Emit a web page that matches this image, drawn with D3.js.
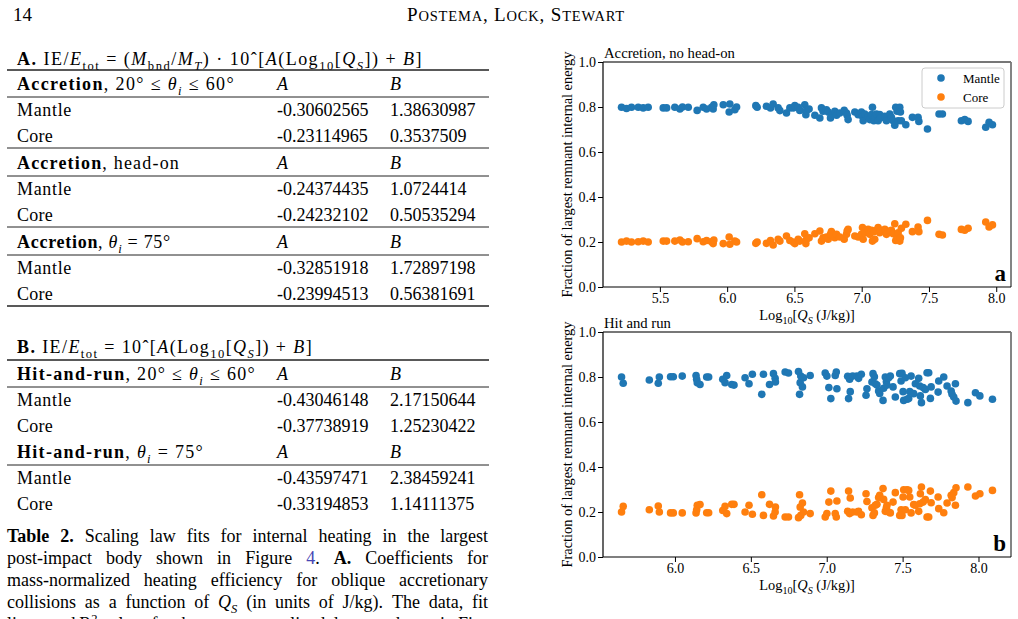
<!DOCTYPE html>
<html><head><meta charset="utf-8">
<script src="https://cdn.jsdelivr.net/npm/d3@7"></script>
<style>
body{margin:0;background:#fff}
text{font-family:"Liberation Serif",serif;white-space:pre}
</style></head>
<body><svg id="c" width="1018" height="619"></svg>
<script>
// ---------- DATA ----------
// Panel a: Accretion, no head-on
const qsA = [5.215,5.252,5.289,5.339,5.376,5.413,5.525,5.550,5.611,5.649,5.668,5.711,5.777,5.822,5.847,5.884,5.896,5.901,5.971,6.020,6.015,6.057,6.070,6.213,6.223,6.292,6.322,6.342,6.379,6.392,6.441,6.466,6.491,6.503,6.528,6.540,6.577,6.585,6.590,6.609,6.652,6.689,6.701,6.713,6.738,6.751,6.775,6.768,6.800,6.813,6.837,6.870,6.887,6.892,6.899,6.949,6.974,6.998,7.006,7.011,7.023,7.048,7.060,7.073,7.080,7.090,7.097,7.110,7.122,7.134,7.139,7.172,7.184,7.209,7.221,7.234,7.246,7.253,7.263,7.271,7.283,7.288,7.295,7.328,7.377,7.419,7.425,7.489,7.575,7.600,7.741,7.766,7.791,7.922,7.947,7.972];
const mantleA = [0.799,0.793,0.799,0.799,0.796,0.799,0.796,0.796,0.799,0.791,0.800,0.799,0.785,0.799,0.791,0.799,0.791,0.810,0.810,0.813,0.778,0.788,0.800,0.806,0.799,0.803,0.796,0.813,0.796,0.784,0.773,0.796,0.796,0.806,0.799,0.785,0.810,0.766,0.785,0.791,0.763,0.751,0.796,0.781,0.788,0.778,0.763,0.751,0.781,0.763,0.773,0.785,0.773,0.763,0.744,0.778,0.766,0.778,0.759,0.739,0.769,0.759,0.744,0.766,0.799,0.739,0.754,0.769,0.739,0.766,0.751,0.759,0.739,0.769,0.754,0.739,0.719,0.799,0.781,0.739,0.799,0.778,0.739,0.721,0.754,0.754,0.736,0.702,0.769,0.769,0.739,0.744,0.736,0.710,0.732,0.721];
const coreA = [0.200,0.204,0.200,0.201,0.204,0.200,0.204,0.204,0.204,0.209,0.200,0.201,0.215,0.201,0.207,0.201,0.193,0.209,0.193,0.190,0.222,0.204,0.200,0.194,0.200,0.194,0.207,0.187,0.212,0.204,0.227,0.207,0.200,0.193,0.212,0.204,0.237,0.193,0.212,0.219,0.237,0.249,0.204,0.219,0.222,0.212,0.246,0.234,0.219,0.234,0.222,0.212,0.234,0.249,0.256,0.227,0.222,0.234,0.264,0.212,0.241,0.256,0.234,0.252,0.204,0.246,0.212,0.252,0.264,0.241,0.252,0.256,0.234,0.249,0.252,0.237,0.281,0.207,0.219,0.241,0.204,0.219,0.261,0.279,0.246,0.267,0.246,0.296,0.234,0.231,0.256,0.252,0.261,0.289,0.267,0.276];

// Panel b: Hit and run
const qsB = [5.648,5.659,5.831,5.890,5.897,5.971,5.989,6.048,6.139,6.143,6.147,6.165,6.209,6.222,6.315,6.330,6.341,6.374,6.389,6.462,6.488,6.510,6.572,6.583,6.623,6.649,6.660,6.662,6.726,6.748,6.814,6.821,6.825,6.829,6.840,6.847,6.891,6.990,7.001,7.014,7.027,7.056,7.063,7.067,7.138,7.144,7.151,7.155,7.171,7.199,7.210,7.228,7.259,7.265,7.298,7.305,7.314,7.320,7.331,7.342,7.349,7.371,7.375,7.386,7.393,7.397,7.408,7.419,7.437,7.452,7.481,7.490,7.496,7.503,7.507,7.518,7.529,7.540,7.547,7.556,7.573,7.584,7.606,7.613,7.617,7.624,7.635,7.650,7.661,7.672,7.683,7.688,7.734,7.738,7.771,7.793,7.820,7.826,7.837,7.848,7.852,7.930,7.980,8.009,8.092];
const mantleB = [0.800,0.772,0.787,0.772,0.800,0.801,0.801,0.804,0.807,0.790,0.775,0.767,0.800,0.800,0.790,0.775,0.807,0.767,0.764,0.797,0.770,0.812,0.723,0.812,0.767,0.815,0.794,0.778,0.822,0.818,0.824,0.723,0.775,0.804,0.756,0.797,0.807,0.818,0.804,0.753,0.704,0.807,0.822,0.748,0.803,0.704,0.790,0.735,0.804,0.804,0.794,0.812,0.719,0.748,0.778,0.815,0.801,0.770,0.764,0.738,0.727,0.696,0.750,0.800,0.779,0.764,0.797,0.804,0.756,0.711,0.815,0.782,0.816,0.735,0.696,0.797,0.701,0.704,0.735,0.804,0.726,0.770,0.794,0.760,0.716,0.686,0.753,0.745,0.819,0.819,0.705,0.756,0.733,0.782,0.800,0.760,0.738,0.723,0.711,0.770,0.693,0.686,0.730,0.716,0.701];
const coreB = [0.200,0.225,0.210,0.227,0.200,0.196,0.196,0.196,0.196,0.210,0.230,0.233,0.197,0.197,0.207,0.225,0.193,0.234,0.234,0.200,0.230,0.190,0.277,0.185,0.234,0.182,0.200,0.222,0.178,0.178,0.175,0.277,0.222,0.185,0.240,0.200,0.193,0.178,0.193,0.244,0.293,0.193,0.178,0.249,0.203,0.293,0.193,0.262,0.200,0.200,0.203,0.188,0.281,0.247,0.219,0.185,0.196,0.230,0.234,0.264,0.274,0.304,0.256,0.203,0.219,0.230,0.200,0.196,0.244,0.286,0.185,0.210,0.185,0.267,0.299,0.210,0.299,0.296,0.267,0.196,0.233,0.230,0.203,0.237,0.281,0.311,0.244,0.255,0.178,0.178,0.293,0.241,0.267,0.215,0.197,0.240,0.274,0.264,0.286,0.230,0.308,0.311,0.271,0.281,0.296];

const xTicksA = [5.5,6.0,6.5,7.0,7.5,8.0];
const xTicksB = [6.0,6.5,7.0,7.5,8.0];
const yTicks = [0.0,0.2,0.4,0.6,0.8,1.0];
const seriesNames = ["Mantle","Core"];
const seriesColors = ["#1f77b4","#ff7f0e"];

// Table 2 contents
const titleA = [["b","A."],["r"," IE/"],["i","E"],["rsub","tot"],["r"," = ("],["i","M"],["rsub","bnd"],["r","/"],["i","M"],["isub","T"],["r",") · 10ˆ["],["i","A"],["r","(Log"],["rsub","10"],["r","["],["i","Q"],["isub","S"],["r","]) + "],["i","B"],["r","]"]];
const titleB = [["b","B."],["r"," IE/"],["i","E"],["rsub","tot"],["r"," = 10ˆ["],["i","A"],["r","(Log"],["rsub","10"],["r","["],["i","Q"],["isub","S"],["r","]) + "],["i","B"],["r","]"]];
const groupHeadsA = [
  [["b","Accretion"],["r",", 20° ≤ "],["i","θ"],["isub","i"],["r"," ≤ 60°"]],
  [["b","Accretion"],["r",", head-on"]],
  [["b","Accretion"],["r",", "],["i","θ"],["isub","i"],["r"," = 75°"]]
];
const groupRowsA = [
  [["Mantle","-0.30602565","1.38630987"],["Core","-0.23114965","0.3537509"]],
  [["Mantle","-0.24374435","1.0724414"],["Core","-0.24232102","0.50535294"]],
  [["Mantle","-0.32851918","1.72897198"],["Core","-0.23994513","0.56381691"]]
];
const groupHeadsB = [
  [["b","Hit-and-run"],["r",", 20° ≤ "],["i","θ"],["isub","i"],["r"," ≤ 60°"]],
  [["b","Hit-and-run"],["r",", "],["i","θ"],["isub","i"],["r"," = 75°"]]
];
const groupRowsB = [
  [["Mantle","-0.43046148","2.17150644"],["Core","-0.37738919","1.25230422"]],
  [["Mantle","-0.43597471","2.38459241"],["Core","-0.33194853","1.14111375"]]
];
const captionLines = [
  [[["b","Table"]],[["b","2."]],"Scaling","law","fits","for","internal","heating","in","the","largest"],
  ["post-impact","body","shown","in","Figure",[["blue","4"],["r","."]],[["b","A."]],"Coefficients","for"],
  ["mass-normalized","heating","efficiency","for","oblique","accretionary"],
  ["collisions","as","a","function","of",[["i","Q"],["isub","S"]],"(in","units","of","J/kg).","The","data,","fit"],
  ["lines,","and",[["r","R"],["sup","2"]],"values","for","the","mass-normalized","data","are","shown","in","Fig-"]
];

// ---------- DRAW ----------
const svg = d3.select("#c");
svg.append("rect").attr("width",1018).attr("height",619).attr("fill","#fff");

function rich(sel, segs, size){
  let shift = 0;
  segs.forEach(([st,t])=>{
    const ts = sel.append("tspan").text(t);
    const sub = st.includes("sub"), sup = st === "sup";
    const target = sub ? size*0.25 : (sup ? -size*0.4 : 0);
    ts.attr("dy", target - shift); shift = target;
    ts.attr("font-size", (sub||sup) ? size*0.7 : size);
    if (st[0]==="b" && st!=="blue") ts.attr("font-weight","bold");
    if (st[0]==="i") ts.attr("font-style","italic");
    if (st==="blue") ts.attr("fill","#4646b4");
  });
  return sel;
}
// stretch a text to span x0..x1 (the reference uses a wider TeX font)
function fit(sel, x0, x1){
  const w = sel.node().getComputedTextLength();
  const n = sel.text().length;
  if (n > 0) sel.attr("letter-spacing", ((x1 - x0 - w) / n).toFixed(3));
  return sel;
}

// page header
svg.append("text").attr("x",13).attr("y",21).attr("font-size",19).text("14");
const hdr = svg.append("text").attr("x",407).attr("y",21);
[["P",19],["OSTEMA",14.5],[", ",19],["L",19],["OCK",14.5],[", ",19],["S",19],["TEWART",14.5]].forEach(([t,s])=>hdr.append("tspan").attr("font-size",s).text(t));
fit(hdr, 407, 625);

// table
const FS = 18, XL = 17, XA = 277, XB = 390, R0 = 7, R1 = 489;
const labelEnds = {Mantle: 72, Core: 53};
function rule(y,w){ svg.append("line").attr("x1",R0).attr("x2",R1).attr("y1",y).attr("y2",y).attr("stroke","#222").attr("stroke-width",w); }
function colHead(y){
  svg.append("text").attr("x",XA).attr("y",y).attr("font-size",FS).attr("font-style","italic").text("A");
  svg.append("text").attr("x",XB).attr("y",y).attr("font-size",FS).attr("font-style","italic").text("B");
}
function dataRows(rows, y0){
  rows.forEach((r,i)=>{
    const y = y0 + 26*i;
    fit(svg.append("text").attr("x",XL).attr("y",y).attr("font-size",FS).text(r[0]), XL, labelEnds[r[0]]);
    svg.append("text").attr("x",XA).attr("y",y).attr("font-size",FS).text(r[1]);
    svg.append("text").attr("x",XB).attr("y",y).attr("font-size",FS).text(r[2]);
  });
}
fit(rich(svg.append("text").attr("x",XL).attr("y",65), titleA, FS), XL, 423);
rule(70,1.4);
const headEndsA = [235,180,171];
[90,169,248].forEach((g,i)=>{
  fit(rich(svg.append("text").attr("x",XL).attr("y",g), groupHeadsA[i], FS), XL, headEndsA[i]);
  colHead(g);
  rule(g+7,1);
  dataRows(groupRowsA[i], g+26);
  rule(g+58, i===2 ? 1.3 : 1);
});
fit(rich(svg.append("text").attr("x",XL).attr("y",353), titleB, FS), XL, 313);
rule(360,1.4);
const headEndsB = [256,204];
[380,458].forEach((g,i)=>{
  fit(rich(svg.append("text").attr("x",XL).attr("y",g), groupHeadsB[i], FS), XL, headEndsB[i]);
  colHead(g);
  rule(g+7,1);
  dataRows(groupRowsB[i], g+26);
});

// caption, justified
captionLines.forEach((words,li)=>{
  const y = 542 + 22*li;
  const nodes = words.map(w=>{
    const t = svg.append("text").attr("y",y).attr("font-size",FS);
    if (typeof w === "string") t.text(w); else rich(t, w, FS);
    return t;
  });
  const widths = nodes.map(n=>n.node().getComputedTextLength());
  const total = d3.sum(widths);
  const gap = (488 - 7 - total)/(nodes.length-1);
  let x = 7;
  nodes.forEach((n,i)=>{ n.attr("x",x); x += widths[i] + gap; });
});

// scatter panels
function panel(o){
  const xe = d3.extent(o.x), pad = (xe[1]-xe[0])*0.05;
  const xs = d3.scaleLinear().domain([xe[0]-pad, xe[1]+pad]).range([o.left,o.right]);
  const ys = d3.scaleLinear().domain([0,1]).range([o.bottom,o.top]);
  const g = svg.append("g");
  [o.m,o.c].forEach((vals,si)=>{
    g.append("g").selectAll("circle").data(o.x.map((v,i)=>[v,vals[i]])).join("circle")
      .attr("cx",d=>xs(d[0])).attr("cy",d=>ys(d[1])).attr("r",3.8).attr("fill",seriesColors[si]);
  });
  const ax = g.append("g").attr("transform",`translate(0,${o.bottom})`)
    .call(d3.axisBottom(xs).tickValues(o.xticks).tickFormat(d3.format(".1f")).tickSize(5).tickPadding(1));
  const ay = g.append("g").attr("transform",`translate(${o.left},0)`)
    .call(d3.axisLeft(ys).tickValues(yTicks).tickFormat(d3.format(".1f")).tickSize(5).tickPadding(2));
  [ax,ay].forEach(a=>{
    a.select(".domain").remove();
    a.attr("font-family","Liberation Serif").attr("font-size",14);
    a.selectAll("text").attr("fill","#000");
    a.selectAll("line").attr("stroke","#000");
  });
  // spines
  g.append("line").attr("x1",o.left).attr("x2",o.right).attr("y1",o.top).attr("y2",o.top).attr("stroke","#777").attr("stroke-width",1.8);
  g.append("line").attr("x1",o.right).attr("x2",o.right).attr("y1",o.top).attr("y2",o.bottom).attr("stroke","#777").attr("stroke-width",1.8);
  g.append("line").attr("x1",o.left).attr("x2",o.right).attr("y1",o.bottom).attr("y2",o.bottom).attr("stroke","#000").attr("stroke-width",1.2);
  g.append("line").attr("x1",o.left).attr("x2",o.left).attr("y1",o.top).attr("y2",o.bottom).attr("stroke","#000").attr("stroke-width",1.2);
  // titles & labels
  g.append("text").attr("x",o.left+1).attr("y",o.top-4).attr("font-size",14.7).text(o.title);
  rich(g.append("text").attr("x",(o.left+o.right)/2).attr("y",o.bottom+33).attr("text-anchor","middle"),
    [["r","Log"],["rsub","10"],["r","["],["i","Q"],["isub","S"],["r"," (J/kg)]"]], 14.4);
  g.append("text").attr("transform",`translate(${o.left-31},${(o.top+o.bottom)/2}) rotate(-90)`)
    .attr("text-anchor","middle").attr("font-size",14.4).text("Fraction of largest remnant internal energy");
  g.append("text").attr("x",o.right-5).attr("y",o.bottom-6).attr("text-anchor","end")
    .attr("font-size",23).attr("font-weight","bold").text(o.letter);
  if (o.legend){
    const lg = g.append("g");
    lg.append("rect").attr("x",922).attr("y",68).attr("width",82).attr("height",40).attr("rx",3)
      .attr("fill","#fff").attr("fill-opacity",0.8).attr("stroke","#ccc");
    seriesNames.forEach((n,i)=>{
      lg.append("circle").attr("cx",941).attr("cy",78+19*i).attr("r",3.8).attr("fill",seriesColors[i]);
      lg.append("text").attr("x",963).attr("y",83+19*i).attr("font-size",13).text(n);
    });
  }
}
panel({left:603,right:1011,top:62,bottom:287,x:qsA,m:mantleA,c:coreA,xticks:xTicksA,title:"Accretion, no head-on",letter:"a",legend:true});
panel({left:603,right:1011,top:332,bottom:557,x:qsB,m:mantleB,c:coreB,xticks:xTicksB,title:"Hit and run",letter:"b",legend:false});
</script></body></html>
